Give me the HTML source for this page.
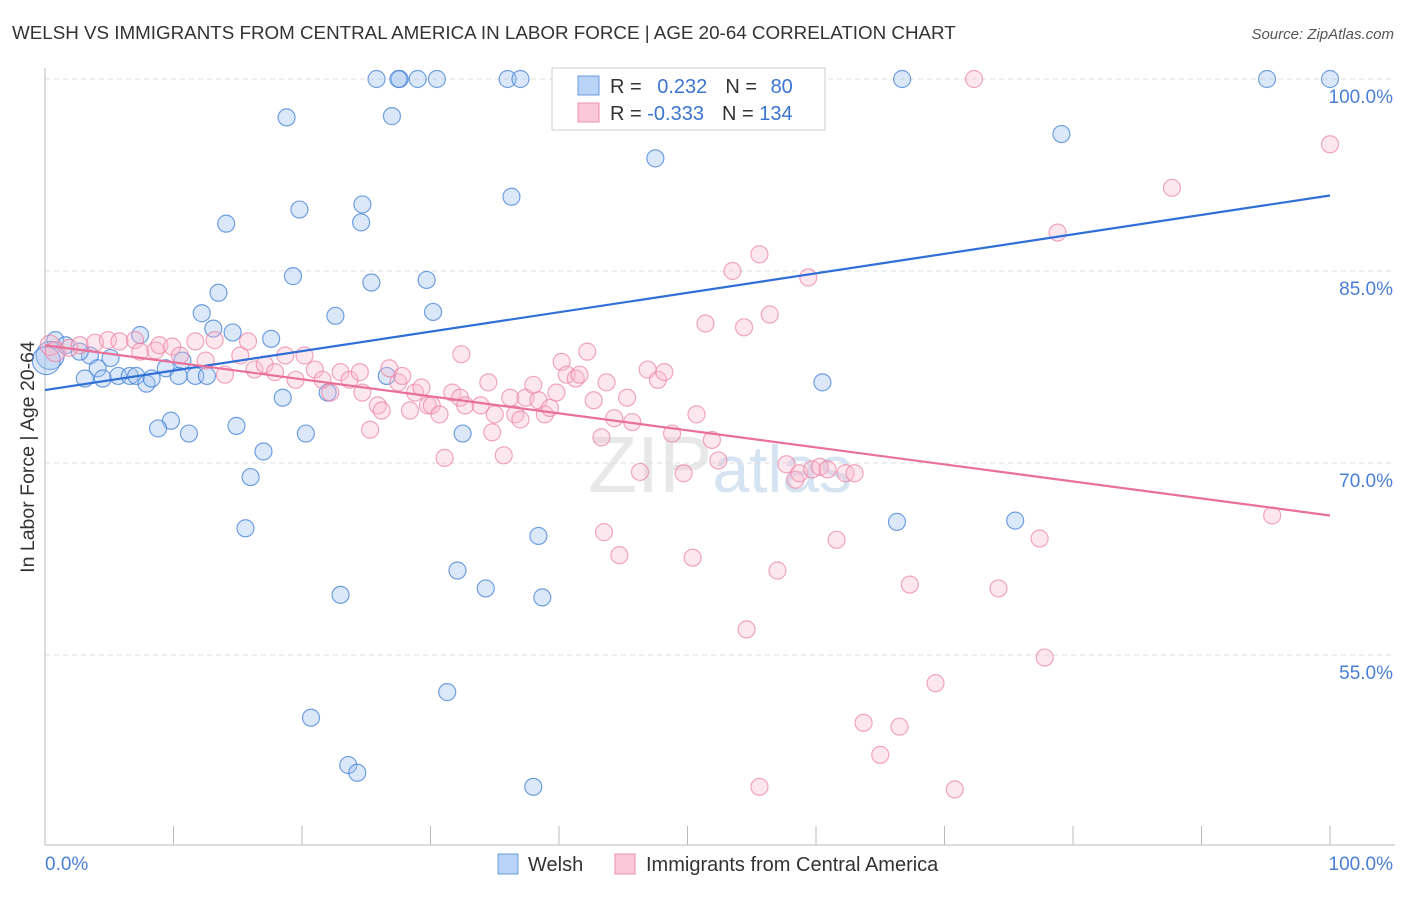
<!DOCTYPE html>
<html><head><meta charset="utf-8"><style>
body{margin:0;background:#fff;font-family:"Liberation Sans",sans-serif}
svg text{font-family:"Liberation Sans",sans-serif}
</style></head><body>
<svg id="chart" width="1406" height="892" xmlns="http://www.w3.org/2000/svg">
<text x="12" y="39" font-size="18.8" fill="#333">WELSH VS IMMIGRANTS FROM CENTRAL AMERICA IN LABOR FORCE | AGE 20-64 CORRELATION CHART</text>
<text x="1394" y="39" font-size="15" fill="#555" text-anchor="end" font-style="italic">Source: ZipAtlas.com</text>
<text x="720" y="492" font-size="80" fill="#e8e8e8" text-anchor="middle" font-family="Liberation Serif">ZIP<tspan fill="#d6e3f3" font-family="Liberation Sans" font-size="66">atlas</tspan></text>
<g id="grid"></g>
<line x1="45" y1="68" x2="45" y2="845" stroke="#bbb"/>
<line x1="45" y1="845" x2="1395" y2="845" stroke="#bbb"/>
<g id="xticks"></g>
<text transform="translate(34,457) rotate(-90)" font-size="19.5" fill="#333" text-anchor="middle">In Labor Force | Age 20-64</text>
<text x="45" y="870" font-size="19" fill="#4a7fd4">0.0%</text>
<text x="1393" y="870" font-size="19" fill="#4a7fd4" text-anchor="end">100.0%</text>
<g id="pts"></g>
<g id="lines"></g>
<g>
<rect x="552" y="68" width="273" height="62" fill="#fff" stroke="#ccc"/>
<rect x="578" y="76" width="21" height="19" fill="#b8d3f5" stroke="#6a9be0"/>
<rect x="578" y="103" width="21" height="19" fill="#fac8d8" stroke="#ec8fb0"/>
<text x="610" y="93" font-size="20" fill="#333">R = <tspan fill="#3b74d1" dx="10">0.232</tspan><tspan dx="18" fill="#333">N = </tspan><tspan fill="#3b74d1" dx="8">80</tspan></text>
<text x="610" y="120" font-size="20" fill="#333">R = <tspan fill="#3b74d1">-0.333</tspan><tspan dx="18" fill="#333">N = </tspan><tspan fill="#3b74d1">134</tspan></text>
</g>
<g>
<rect x="498" y="854" width="20" height="20" fill="#b8d3f5" stroke="#6a9be0"/>
<text x="528" y="871" font-size="20" fill="#333">Welsh</text>
<rect x="615" y="854" width="20" height="20" fill="#fac8d8" stroke="#ec8fb0"/>
<text x="646" y="871" font-size="20" fill="#333">Immigrants from Central America</text>
</g>
</svg>
<script>
const yTicks=[100,85,70,55];
const xTickVals=[0,10,20,30,40,50,60,70,80,90,100];
const blueX=[25.8,27.6,27.5,29.0,30.5,36.0,37.0,41.0,45.6,66.7,95.1,100,18.8,27.0,79.1,47.5,36.3,19.8,24.7,24.6,14.1,19.3,25.4,29.7,13.5,12.2,22.6,30.2,13.1,14.6,7.4,17.6,0.8,1.6,3.5,5.1,2.7,10.7,4.1,3.1,4.5,5.7,6.6,7.1,7.9,8.3,9.4,10.4,11.7,12.6,26.6,60.5,18.5,22.0,9.8,8.8,11.2,14.9,20.3,32.5,17.0,16.0,15.6,66.3,75.5,38.4,32.1,34.3,23.0,38.7,31.3,20.7,23.6,24.3,38.0,0.4,0.1];
const blueY=[100,100,100,100,100,100,100,100,100,100,100,100,97.0,97.1,95.7,93.8,90.8,89.8,90.2,88.8,88.7,84.6,84.1,84.3,83.3,81.7,81.5,81.8,80.5,80.2,80.0,79.7,79.6,79.2,78.4,78.2,78.7,78.0,77.4,76.6,76.6,76.8,76.8,76.8,76.2,76.6,77.4,76.8,76.8,76.8,76.8,76.3,75.1,75.5,73.3,72.7,72.3,72.9,72.3,72.3,70.9,68.9,64.9,65.4,65.5,64.3,61.6,60.2,59.7,59.5,52.1,50.1,46.4,45.8,44.7,78.4,78.0];
const pinkX=[47.9,72.3,100,87.7,78.8,55.6,53.5,59.4,51.4,54.4,56.4,0.4,0.8,1.9,2.7,3.9,4.9,5.8,7.0,7.4,8.6,8.9,9.9,10.5,11.7,12.5,13.2,14.0,15.2,15.8,16.3,17.1,17.9,18.7,19.5,20.2,21.0,21.6,22.2,23.0,23.7,24.5,24.7,25.3,25.9,26.2,26.8,27.5,27.8,28.4,28.8,29.3,29.8,30.1,30.7,31.1,31.7,32.3,32.7,33.9,34.5,34.8,35.0,35.7,36.2,36.6,37.0,37.4,38.0,38.4,38.9,39.3,39.8,40.2,40.6,41.3,41.6,42.2,42.7,43.3,43.7,44.3,44.7,45.3,45.7,46.3,46.9,47.7,48.2,48.8,49.7,50.4,50.7,51.9,52.4,54.6,55.6,57.0,57.7,58.4,58.7,59.7,60.3,60.9,61.6,62.3,63.0,63.7,65.0,66.5,67.3,69.3,70.8,74.2,77.4,77.8,95.5,32.4,43.5];
const pinkY=[100,100,94.9,91.5,88.0,86.3,85.0,84.5,80.9,80.6,81.6,79.2,78.7,79.0,79.2,79.4,79.6,79.5,79.6,78.7,78.8,79.2,79.1,78.4,79.5,78.0,79.6,76.9,78.4,79.5,77.3,77.7,77.1,78.4,76.5,78.4,77.3,76.5,75.5,77.1,76.5,77.1,75.5,72.6,74.5,74.1,77.4,76.3,76.8,74.1,75.5,75.9,74.5,74.5,73.8,70.4,75.5,75.1,74.5,74.5,76.3,72.4,73.8,70.6,75.1,73.8,73.4,75.1,76.1,74.9,73.8,74.3,75.5,77.9,76.9,76.6,76.9,78.7,74.9,72.0,76.3,73.5,62.8,75.1,73.2,69.3,77.3,76.5,77.1,72.3,69.2,62.6,73.8,71.8,70.2,57.0,44.7,61.6,69.9,68.7,69.2,69.5,69.7,69.5,64.0,69.2,69.2,49.7,47.2,49.4,60.5,52.8,44.5,60.2,64.1,54.8,65.9,78.5,64.6];
const blueTrend=[75.7,90.9];
const pinkTrend=[79.2,65.9];
const NS='http://www.w3.org/2000/svg';
const X=v=>45+v*12.85;
const Y=v=>79+(100-v)*12.8;
function mk(t,a,p){const e=document.createElementNS(NS,t);for(const k in a)e.setAttribute(k,a[k]);p.appendChild(e);return e;}
const grid=document.getElementById('grid');
yTicks.forEach(v=>{
 const l=mk('line',{x1:45,x2:1395,y1:Y(v),y2:Y(v),stroke:'#ddd','stroke-dasharray':'5,4'},grid);
 
 
 const t=mk('text',{x:1393,y:Y(v)+24,'font-size':19,fill:'#4a7fd4','text-anchor':'end'},grid);
 t.textContent=v.toFixed(1)+'%';
 
 
});
const xt=document.getElementById('xticks');
xTickVals.forEach(v=>{
 const l=mk('line',{x1:X(v),x2:X(v),y1:826,y2:845,stroke:'#bbb'},xt);
 
 
});
const pts=document.getElementById('pts');
blueX.forEach((x,i)=>{
 const big=x<1.2&&i>=75;
 const c=mk('circle',{cx:X(x),cy:Y(blueY[i]),r:big?14:8.5,fill:'rgba(160,195,240,0.38)',stroke:'rgba(70,130,215,0.75)','stroke-width':1.2},pts);
 
 
});
pinkX.forEach((x,i)=>{
 const c=mk('circle',{cx:X(x),cy:Y(pinkY[i]),r:x<1?10:8.5,fill:'rgba(248,185,205,0.35)',stroke:'rgba(235,130,165,0.7)','stroke-width':1.2},pts);
 
 
});
const ln=document.getElementById('lines');
const b=mk('line',{x1:X(0),y1:Y(blueTrend[0]),x2:X(100),y2:Y(blueTrend[1]),stroke:'#2f6fd6','stroke-width':2.2},ln);


const p=mk('line',{x1:X(0),y1:Y(pinkTrend[0]),x2:X(100),y2:Y(pinkTrend[1]),stroke:'#e8709a','stroke-width':2.2},ln);


</script>
</body></html>
